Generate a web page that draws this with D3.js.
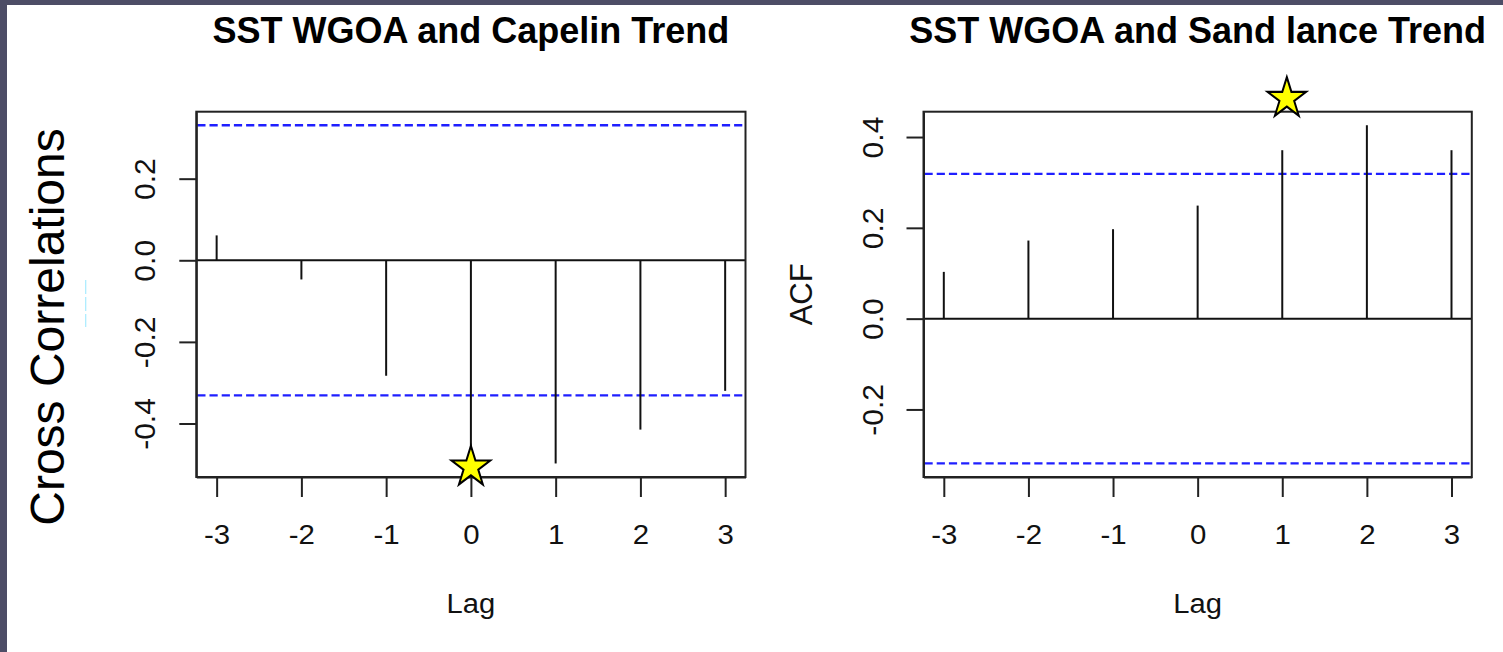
<!DOCTYPE html>
<html>
<head>
<meta charset="utf-8">
<script src="https://cdn.jsdelivr.net/npm/d3@7"></script>
<style>
  body { margin: 0; background: #fff; }
  svg { display: block; font-family: "Liberation Sans", Arial, sans-serif; }
</style>
</head>
<body>
<main></main>
<script>
// lags shared by both plots
const lags = [-3, -2, -1, 0, 1, 2, 3];
const xTickLabels = ["-3", "-2", "-1", "0", "1", "2", "3"];

// cross correlations
const capelinCcf = [0.061, -0.047, -0.283, -0.49, -0.498, -0.415, -0.320];
const sandlanceCcf = [0.103, 0.172, 0.197, 0.249, 0.371, 0.426, 0.371];

// significance bounds (blue dashed lines)
const capelinClim = 0.331;
const sandlanceClim = 0.319;

const capelinYTicks = [-0.4, -0.2, 0.0, 0.2];
const sandlanceYTicks = [-0.2, 0.0, 0.2, 0.4];

const titles = ["SST WGOA and Capelin Trend", "SST WGOA and Sand lance Trend"];

// yellow stars pasted on the slide: [lag, value]
const capelinStar = [0.0, -0.507];
const sandlanceStar = [1.054, 0.485];


var width = 1503;
var height = 652;

var svg = d3.select("main")
    .append("svg")
    .attr("width", width)
    .attr("height", height);

//slide frame
svg.append("rect")
    .attr("x", 0).attr("y", 0)
    .attr("width", width).attr("height", 5)
    .attr("fill", "#4d4d66");
svg.append("rect")
    .attr("x", 0).attr("y", 0)
    .attr("width", 7).attr("height", height)
    .attr("fill", "#4d4d66");

const panels = [
    {left: 196.3, right: 745.5, top: 111.7, bottom: 477, title: titles[0],
     values: capelinCcf, clim: capelinClim, yTicks: capelinYTicks, star: capelinStar, acf: false},
    {left: 923.5, right: 1471.8, top: 111.7, bottom: 477, title: titles[1],
     values: sandlanceCcf, clim: sandlanceClim, yTicks: sandlanceYTicks, star: sandlanceStar, acf: true}
];

// R pads the plot range by 4% on each side
function pad(ext) {
    const d = (ext[1] - ext[0]) * 0.04;
    return [ext[0] - d, ext[1] + d];
}

panels.forEach(p => createPanel(p));

function createPanel(p) {
    const cx = (p.left + p.right) / 2;
    const cy = (p.top + p.bottom) / 2;

    const xScale = d3.scaleLinear()
        .domain(pad(d3.extent(lags)))
        .range([p.left, p.right]);

    const yScale = d3.scaleLinear()
        .domain(pad(d3.extent([...p.values, -p.clim, p.clim])))
        .range([p.bottom, p.top]);

    //title
    svg.append("text")
        .attr("x", cx)
        .attr("y", 42.5)
        .attr("text-anchor", "middle")
        .style("font-size", "36px")
        .style("font-weight", "bold")
        .attr("fill", "#000")
        .text(p.title);

    //significance lines
    svg.selectAll(null)
        .data([-p.clim, p.clim])
        .enter()
        .append("line")
        .attr("x1", p.left + 1)
        .attr("x2", p.right - 1)
        .attr("y1", d => yScale(d))
        .attr("y2", d => yScale(d))
        .attr("stroke", "#1f1fff")
        .attr("stroke-width", 2.3)
        .attr("stroke-dasharray", "8.2,4");

    //zero line
    svg.append("line")
        .attr("x1", p.left)
        .attr("x2", p.right)
        .attr("y1", yScale(0))
        .attr("y2", yScale(0))
        .attr("stroke", "#111")
        .attr("stroke-width", 2);

    //spikes
    svg.selectAll(null)
        .data(p.values)
        .enter()
        .append("line")
        .attr("x1", (d, i) => xScale(lags[i]))
        .attr("x2", (d, i) => xScale(lags[i]))
        .attr("y1", yScale(0))
        .attr("y2", d => yScale(d))
        .attr("stroke", "#111")
        .attr("stroke-width", 2);

    //x axis
    var x_axis = d3.axisBottom(xScale)
        .tickValues(lags)
        .tickFormat((d, i) => xTickLabels[i])
        .tickSize(20)
        .tickSizeOuter(0);

    const gx = svg.append("g")
        .attr("transform", "translate(0," + p.bottom + ")")
        .call(x_axis)
        .attr("font-size", null)
        .attr("font-family", null);
    gx.select(".domain").attr("stroke", "#222").attr("stroke-width", 2);
    gx.selectAll(".tick line").attr("stroke", "#222").attr("stroke-width", 2);
    gx.selectAll(".tick text")
        .attr("y", 67)
        .attr("dy", null)
        .attr("fill", "#111")
        .attr("transform", "scale(1.05,1)")
        .style("font-size", "28px");

    //y axis
    var y_axis = d3.axisLeft(yScale)
        .tickValues(p.yTicks)
        .tickFormat(d => d.toFixed(1))
        .tickSize(17)
        .tickSizeOuter(0);

    const gy = svg.append("g")
        .attr("transform", "translate(" + p.left + ",0)")
        .call(y_axis)
        .attr("font-size", null)
        .attr("font-family", null);
    gy.select(".domain").attr("stroke", "#222").attr("stroke-width", 2);
    gy.selectAll(".tick line").attr("stroke", "#222").attr("stroke-width", 2);
    gy.selectAll(".tick text")
        .attr("x", 0)
        .attr("dy", null)
        .attr("text-anchor", "middle")
        .attr("fill", "#111")
        .attr("transform", "translate(-41,0) rotate(-90)")
        .style("font-size", "30px");

    //plot box
    svg.append("rect")
        .attr("x", p.left)
        .attr("y", p.top)
        .attr("width", p.right - p.left)
        .attr("height", p.bottom - p.top)
        .attr("fill", "none")
        .attr("stroke", "#222")
        .attr("stroke-width", 2);

    //axis titles
    svg.append("text")
        .attr("text-anchor", "middle")
        .attr("transform", "translate(" + cx + ",613.3) scale(1.08,1)")
        .attr("fill", "#111")
        .style("font-size", "27px")
        .text("Lag");

    if (p.acf) {
        svg.append("text")
            .attr("text-anchor", "middle")
            .attr("transform", "translate(811.7," + cy + ") rotate(-90)")
            .attr("fill", "#111")
            .style("font-size", "31px")
            .text("ACF");
    }

    //star
    svg.append("path")
        .attr("d", d3.symbol().type(d3.symbolStar).size(463)())
        .attr("transform", "translate(" + xScale(p.star[0]) + "," + yScale(p.star[1]) + ") scale(1,1.05)")
        .attr("fill", "#ffff00")
        .attr("stroke", "#000")
        .attr("stroke-width", 2)
        .attr("stroke-linejoin", "miter");
}

//slide label on the left
svg.append("text")
    .attr("text-anchor", "middle")
    .attr("transform", "translate(63.5,327) rotate(-90)")
    .attr("fill", "#000")
    .style("font-size", "48px")
    .text("Cross Correlations");

//faint leftover mark next to the label
svg.append("line")
    .attr("x1", 85.7).attr("x2", 85.7)
    .attr("y1", 280).attr("y2", 327)
    .attr("stroke", "#a8ecff")
    .attr("stroke-width", 1.2)
    .attr("stroke-dasharray", "14,3");
</script>
</body>
</html>
